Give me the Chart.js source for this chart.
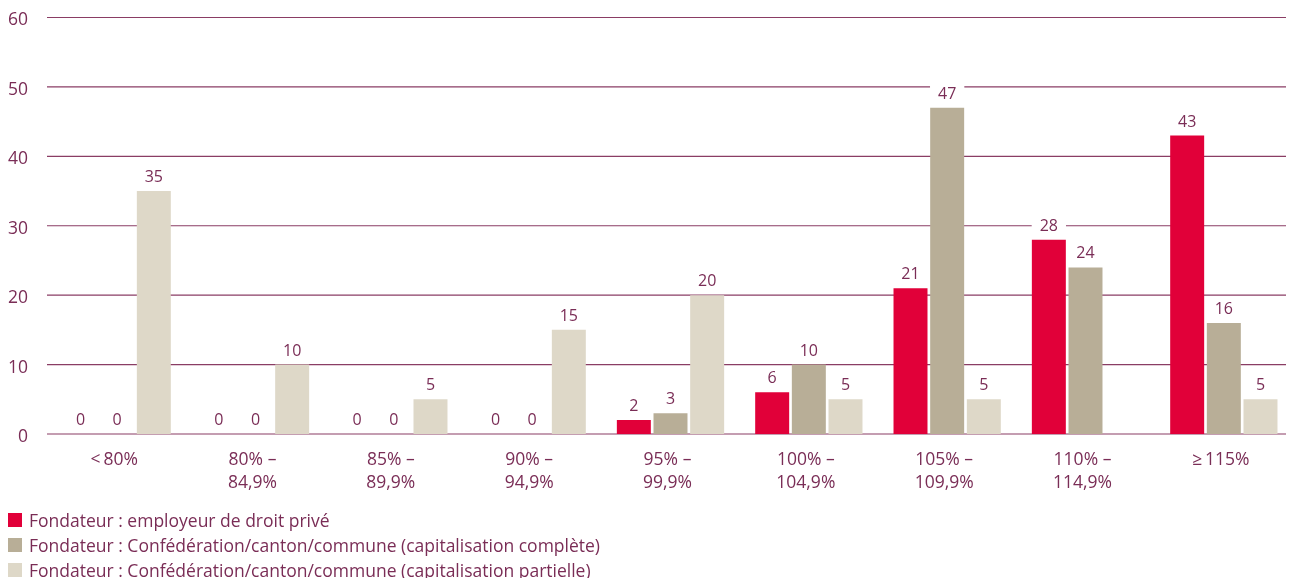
<!DOCTYPE html>
<html>
<head>
<meta charset="utf-8">
<script src="https://cdn.jsdelivr.net/npm/chart.js@4"></script>
<style>
  html, body { margin: 0; padding: 0; background: #fff; width: 1295px; height: 578px; overflow: hidden; }
  #wrap { position: relative; width: 1295px; height: 578px; overflow: hidden; }
  #chart { position: absolute; left: 0; top: -13px; }
  #legend { position: absolute; left: 8px; top: 508px; font-family: 'Open Sans', 'Noto Sans', sans-serif; font-size: 17.5px; color: #7a2d56; }
  .item { display: flex; align-items: center; height: 24.7px; white-space: nowrap; }
  .sw { width: 14px; height: 14px; margin-right: 7px; flex: none; }
</style>
</head>
<body>
<div id="wrap">
  <canvas id="chart" width="1295" height="532"></canvas>
  <div id="legend"></div>
</div>
<script>
// Categories (taux de couverture) and number of institutions per founder type
const categories = [
  ['<\u200980%'],
  ['80% \u2013', '84,9%'],
  ['85% \u2013', '89,9%'],
  ['90% \u2013', '94,9%'],
  ['95% \u2013', '99,9%'],
  ['100% \u2013', '104,9%'],
  ['105% \u2013', '109,9%'],
  ['110% \u2013', '114,9%'],
  ['\u2265\u2009115%']
];
const seriesNames = [
  'Fondateur : employeur de droit privé',
  'Fondateur : Confédération/canton/commune (capitalisation complète)',
  'Fondateur : Confédération/canton/commune (capitalisation partielle)'
];
const prive = [0, 0, 0, 0, 2, 6, 21, 28, 43];
const publicComplete = [0, 0, 0, 0, 3, 10, 47, 24, 16];
const publicPartielle = [35, 10, 5, 15, 20, 5, 5, null, 5];
const yTicks = [0, 10, 20, 30, 40, 50, 60];

const TEXT = '#7a2d56';
const GRID = '#8a3d64';
const COLORS = ['#e10039', '#b8ae97', '#ded8c8'];
const FONT = "'Open Sans', 'Noto Sans', sans-serif";

// Horizontal rules drawn behind the bars
const gridLines = {
  id: 'gridLines',
  beforeDatasetsDraw(chart) {
    const ys = chart.scales.y;
    const { left, right } = chart.chartArea;
    const ctx = chart.ctx;
    ctx.save();
    ctx.strokeStyle = GRID;
    ctx.lineWidth = 1.1;
    ys.ticks.forEach(t => {
      const py = ys.getPixelForValue(t.value);
      ctx.beginPath();
      ctx.moveTo(left - 1, py);
      ctx.lineTo(right - 7, py);
      ctx.stroke();
    });
    ctx.restore();
  }
};

// Value above each bar, on a white patch that interrupts the rules
const valueLabels = {
  id: 'valueLabels',
  afterDatasetsDraw(chart) {
    const ctx = chart.ctx;
    ctx.save();
    ctx.font = '16px ' + FONT;
    ctx.textAlign = 'center';
    ctx.textBaseline = 'middle';
    chart.data.datasets.forEach((ds, i) => {
      const meta = chart.getDatasetMeta(i);
      meta.data.forEach((bar, j) => {
        const v = ds.data[j];
        if (v === null || v === undefined) return;
        const txt = String(v);
        const x = bar.x;
        const y = bar.y - 14.5;
        const w = ctx.measureText(txt).width + 16;
        ctx.fillStyle = '#fff';
        ctx.fillRect(x - w / 2, y - 9, w, 18);
        ctx.fillStyle = TEXT;
        ctx.fillText(txt, x, y + 1);
      });
    });
    ctx.restore();
  }
};

const datasets = [prive, publicComplete, publicPartielle].map((d, i) => ({
  label: seriesNames[i],
  data: d,
  backgroundColor: COLORS[i],
  borderWidth: 0,
  categoryPercentage: 0.795,
  barPercentage: 0.927
}));

const chart = new Chart(document.getElementById('chart'), {
  type: 'bar',
  data: { labels: categories, datasets },
  options: {
    responsive: false,
    devicePixelRatio: 1,
    animation: false,
    layout: { padding: { left: 0, right: 2, top: -2, bottom: 10 } },
    plugins: { legend: { display: false }, tooltip: { enabled: false } },
    scales: {
      x: {
        grid: { display: false, drawTicks: false },
        border: { display: false },
        ticks: {
          color: TEXT,
          font: { family: FONT, size: 17.5, lineHeight: 1.286 },
          padding: 15,
          maxRotation: 0,
          autoSkip: false,
          labelOffset: -3
        }
      },
      y: {
        min: 0,
        max: 60,
        afterFit(s) { s.width = 48; },
        afterBuildTicks(s) { s.ticks = yTicks.map(v => ({ value: v })); },
        grid: { display: false, drawTicks: false },
        border: { display: false },
        ticks: {
          color: TEXT,
          font: { family: FONT, size: 17.5 },
          padding: 20,
          labelOffset: 3
        }
      }
    }
  },
  plugins: [gridLines, valueLabels]
});

// Legend built from the chart's datasets
const legend = document.getElementById('legend');
chart.data.datasets.forEach(ds => {
  const item = document.createElement('div');
  item.className = 'item';
  const sw = document.createElement('span');
  sw.className = 'sw';
  sw.style.background = ds.backgroundColor;
  const label = document.createElement('span');
  label.textContent = ds.label;
  item.appendChild(sw);
  item.appendChild(label);
  legend.appendChild(item);
});
</script>
</body>
</html>
